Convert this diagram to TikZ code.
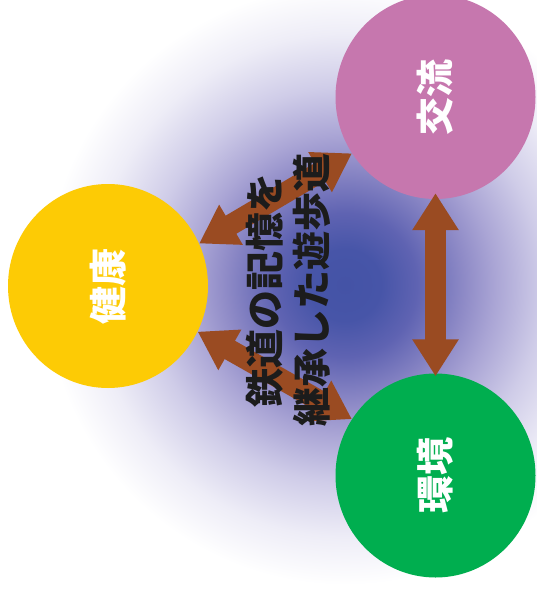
\documentclass[tikz,border=0pt]{standalone}
\usepackage{fontspec}
\newfontfamily\cjk{Noto Sans CJK JP}[BoldFont={* Black}]
\usetikzlibrary{arrows.meta,shapes.geometric}

\definecolor{koryucol}{HTML}{C677AE}
\definecolor{kenkocol}{HTML}{FDCB05}
\definecolor{kankyocol}{HTML}{00AE4F}
\definecolor{arrowcol}{HTML}{9A4B22}
\definecolor{textcol}{HTML}{1C1C1C}
\definecolor{glowA}{HTML}{4453A6}
\definecolor{glowB}{HTML}{4755A8}
\definecolor{glowC}{HTML}{5F63B2}
\definecolor{glowD}{HTML}{8F8BC7}
\definecolor{glowE}{HTML}{AAA5D5}
\definecolor{glowF}{HTML}{CFCCE8}
\definecolor{glowG}{HTML}{EEEDF7}
\pgfdeclareradialshading{glow}{\pgfpoint{0bp}{0bp}}{color(0bp)=(glowA); color(3bp)=(glowB); color(6bp)=(glowC); color(10bp)=(glowD); color(12.5bp)=(glowE); color(16.5bp)=(glowF); color(21bp)=(glowG); color(25bp)=(white); color(50bp)=(white)}

\begin{document}
\begin{tikzpicture}[x=1pt, y=-1pt,
    circ/.style={ellipse, minimum width=200pt, minimum height=204pt, inner sep=0pt},
    lbl/.style={rotate=90, text=white, font=\cjk\bfseries\fontsize{38pt}{38pt}\selectfont},
    blockarrow/.style={line width=21pt, draw=arrowcol,
        {Triangle[width=44pt,length=37pt]}-{Triangle[width=44pt,length=37pt]}}]
            \useasboundingbox (0,0) rectangle (536,594);
            \fill[white] (0,0) rectangle (536,594);
            \shade[shading=glow] (345,285) circle (300);

            % Nodes
            \node[circ, fill=koryucol, label={[lbl]center:交流}] (koryu) at (435.5,97) {};
            \node[circ, fill=kenkocol, label={[lbl]center:健康}] (kenko) at (108,286) {};
            \node[circ, fill=kankyocol, label={[lbl]center:環境}] (kankyo) at (435.5,475.5) {};

            % Lines
            \draw[blockarrow] (kenko.25) -- (koryu.214);
            \draw[blockarrow] (kenko.-27) -- (kankyo.146);
            \draw[blockarrow, shorten <=-6pt, shorten >=-3pt] (koryu.south) -- (kankyo.north);

            \node[align=center, rotate=90, text=textcol,
                font=\cjk\bfseries\fontsize{39pt}{47pt}\selectfont] (theme) at (288,290)
                {鉄道の記憶を\\継承した遊歩道};
        \end{tikzpicture}
\end{document}
